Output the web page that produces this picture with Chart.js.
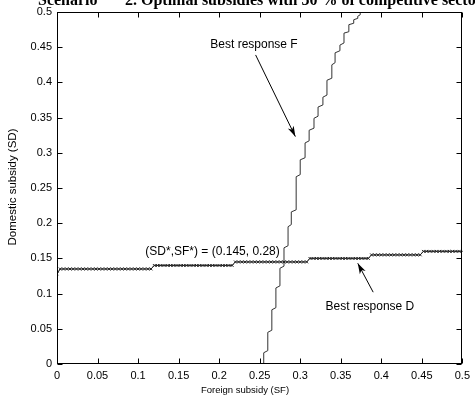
<!DOCTYPE html>
<html>
<head>
<meta charset="utf-8">
<script src="https://cdn.jsdelivr.net/npm/chart.js@4.4.1/dist/chart.umd.min.js"></script>
<style>
    html, body { margin: 0; padding: 0; background: #fff; }
    #chartBox { width: 475px; height: 403px; position: relative; }
</style>
</head>
<body>
<div id="chartBox"><canvas id="myChart"></canvas></div>
<script>
// tick values and labels (both axes use the same 0 .. 0.5 grid)
const tickValues = [0, 0.05, 0.1, 0.15, 0.2, 0.25, 0.3, 0.35, 0.4, 0.45, 0.5];
const tickLabels = ["0", "0.05", "0.1", "0.15", "0.2", "0.25", "0.3", "0.35", "0.4", "0.45", "0.5"];

// Best response D: SD for each SF on the 0.004 grid (SF = 0 .. 0.5)
const dStep = 0.004;
const dSD = [
    0.128,
    0.135, 0.135, 0.135, 0.135, 0.135, 0.135, 0.135, 0.135, 0.135, 0.135,
    0.135, 0.135, 0.135, 0.135, 0.135, 0.135, 0.135, 0.135, 0.135, 0.135,
    0.135, 0.135, 0.135, 0.135, 0.135, 0.135, 0.135, 0.135, 0.135,
    0.14, 0.14, 0.14, 0.14, 0.14, 0.14, 0.14, 0.14, 0.14, 0.14,
    0.14, 0.14, 0.14, 0.14, 0.14, 0.14, 0.14, 0.14, 0.14, 0.14,
    0.14, 0.14, 0.14, 0.14, 0.14,
    0.145, 0.145, 0.145, 0.145, 0.145, 0.145, 0.145, 0.145, 0.145, 0.145,
    0.145, 0.145, 0.145, 0.145, 0.145, 0.145, 0.145, 0.145, 0.145, 0.145,
    0.145, 0.145, 0.145,
    0.15, 0.15, 0.15, 0.15, 0.15, 0.15, 0.15, 0.15, 0.15, 0.15,
    0.15, 0.15, 0.15, 0.15, 0.15, 0.15, 0.15, 0.15, 0.15,
    0.155, 0.155, 0.155, 0.155, 0.155, 0.155, 0.155, 0.155, 0.155, 0.155,
    0.155, 0.155, 0.155, 0.155, 0.155, 0.155,
    0.16, 0.16, 0.16, 0.16, 0.16, 0.16, 0.16, 0.16, 0.16, 0.16,
    0.16, 0.16, 0.16
];

// Best response F: SF level and the SD range over which it holds
const fSF = [0.255, 0.26, 0.265, 0.27, 0.275, 0.28, 0.285, 0.289, 0.295, 0.3, 0.306, 0.311,
    0.317, 0.322, 0.328, 0.333, 0.339, 0.343, 0.349, 0.354, 0.36, 0.366, 0.371, 0.374];
const fSDlow = [0, 0.019, 0.048, 0.08, 0.111, 0.139, 0.168, 0.198, 0.219, 0.269, 0.293, 0.317,
    0.335, 0.352, 0.368, 0.382, 0.406, 0.428, 0.445, 0.456, 0.472, 0.484, 0.491, 0.496];
const fSDhigh = [0.016, 0.045, 0.077, 0.108, 0.136, 0.165, 0.195, 0.216, 0.266, 0.29, 0.314, 0.332,
    0.349, 0.365, 0.379, 0.403, 0.425, 0.442, 0.453, 0.47, 0.482, 0.489, 0.494, 0.5];

let dPoints = dSD.map((v, i) => ({ x: i * dStep, y: v }));
let fPoints = [];
for (let n = 0; n < fSF.length; n++) {
    fPoints.push({ x: fSF[n], y: fSDlow[n] });
    fPoints.push({ x: fSF[n], y: fSDhigh[n] });
}

function arrow(ctx, x1, y1, x2, y2) {
    ctx.beginPath();
    ctx.moveTo(x1, y1);
    ctx.lineTo(x2, y2);
    ctx.stroke();
    const ang = Math.atan2(y2 - y1, x2 - x1), len = 11, w = 0.3;
    ctx.beginPath();
    ctx.moveTo(x2, y2);
    ctx.lineTo(x2 - len * Math.cos(ang - w), y2 - len * Math.sin(ang - w));
    ctx.lineTo(x2 - len * 0.7 * Math.cos(ang), y2 - len * 0.7 * Math.sin(ang));
    ctx.lineTo(x2 - len * Math.cos(ang + w), y2 - len * Math.sin(ang + w));
    ctx.closePath();
    ctx.fill();
}

const frame = {
    id: 'frame',
    afterDraw(chart) {
        const { ctx, chartArea: a, scales: { x, y } } = chart;
        ctx.save();
        ctx.strokeStyle = '#000';
        ctx.fillStyle = '#000';
        ctx.lineWidth = 1;
        const L = Math.round(a.left) + 0.5, R = Math.round(a.right) - 0.5;
        const T = Math.round(a.top) + 0.5, B = Math.round(a.bottom) - 0.5;
        ctx.strokeRect(L, T, R - L, B - T);

        // inward ticks on all four sides
        ctx.beginPath();
        for (let n = 0; n < tickValues.length; n++) {
            const px = Math.round(x.getPixelForValue(tickValues[n])) + 0.5;
            ctx.moveTo(px, B); ctx.lineTo(px, B - 5);
            ctx.moveTo(px, T); ctx.lineTo(px, T + 5);
            const py = Math.round(y.getPixelForValue(tickValues[n])) + 0.5;
            ctx.moveTo(L, py); ctx.lineTo(L + 5, py);
            ctx.moveTo(R, py); ctx.lineTo(R - 5, py);
        }
        ctx.stroke();

        // axis titles
        ctx.textAlign = 'center';
        ctx.textBaseline = 'middle';
        ctx.font = '9.5px "Liberation Sans", Arial, sans-serif';
        ctx.fillText('Foreign subsidy (SF)', 245, 390);
        ctx.save();
        ctx.font = '11.5px "Liberation Sans", Arial, sans-serif';
        ctx.translate(13, 187);
        ctx.rotate(-Math.PI / 2);
        ctx.fillText('Domestic subsidy (SD)', 0, 0);
        ctx.restore();

        // annotations
        ctx.font = '12px "Liberation Sans", Arial, sans-serif';
        ctx.fillText('Best response F', x.getPixelForValue(0.243), y.getPixelForValue(0.453));
        ctx.fillText('Best response D', x.getPixelForValue(0.386), y.getPixelForValue(0.082));
        ctx.textAlign = 'left';
        ctx.fillText('(SD*,SF*) = (0.145, 0.28)', x.getPixelForValue(0.109), y.getPixelForValue(0.159));
        arrow(ctx, x.getPixelForValue(0.245), y.getPixelForValue(0.439),
            x.getPixelForValue(0.294), y.getPixelForValue(0.323));
        arrow(ctx, x.getPixelForValue(0.39), y.getPixelForValue(0.102),
            x.getPixelForValue(0.371), y.getPixelForValue(0.143));

        // title, cut off at the top of the picture
        ctx.font = 'bold 16px "Liberation Serif", "Times New Roman", serif';
        ctx.textBaseline = 'alphabetic';
        ctx.fillText('Scenario', 38, 5);
        ctx.fillText('2. Optimal subsidies with 50 % of competitive sector', 125, 5);
        ctx.restore();
    }
};

const config = {
    type: 'line',
    data: {
        datasets: [{
            label: 'Best response D',
            data: dPoints,
            borderColor: '#222',
            borderWidth: 1,
            pointStyle: 'crossRot',
            pointRadius: 2,
            pointBorderWidth: 1,
            pointBorderColor: '#222',
            tension: 0
        }, {
            label: 'Best response F',
            data: fPoints,
            borderColor: '#333',
            borderWidth: 1,
            pointRadius: 0,
            tension: 0
        }]
    },
    options: {
        responsive: true,
        maintainAspectRatio: false,
        animation: false,
        layout: { padding: { top: 12, right: 9, left: 0, bottom: 0 } },
        plugins: {
            legend: { display: false },
            tooltip: { enabled: false }
        },
        scales: {
            x: {
                type: 'linear',
                min: 0,
                max: 0.5,
                afterFit: (s) => { s.height = 39; },
                afterBuildTicks: (s) => { s.ticks = tickValues.map(v => ({ value: v })); },
                grid: { display: false, drawTicks: false },
                border: { display: false },
                ticks: {
                    padding: 5,
                    color: '#000',
                    maxRotation: 0,
                    autoSkip: false,
                    font: { family: '"Liberation Sans", Arial, sans-serif', size: 11 },
                    callback: (v, i) => tickLabels[i]
                }
            },
            y: {
                type: 'linear',
                min: 0,
                max: 0.5,
                afterFit: (s) => { s.width = 57; },
                afterBuildTicks: (s) => { s.ticks = tickValues.map(v => ({ value: v })); },
                grid: { display: false, drawTicks: false },
                border: { display: false },
                ticks: {
                    padding: 5,
                    color: '#000',
                    autoSkip: false,
                    font: { family: '"Liberation Sans", Arial, sans-serif', size: 11 },
                    callback: (v, i) => tickLabels[i]
                }
            }
        }
    },
    plugins: [frame]
};

new Chart(document.getElementById('myChart'), config);
</script>
</body>
</html>
